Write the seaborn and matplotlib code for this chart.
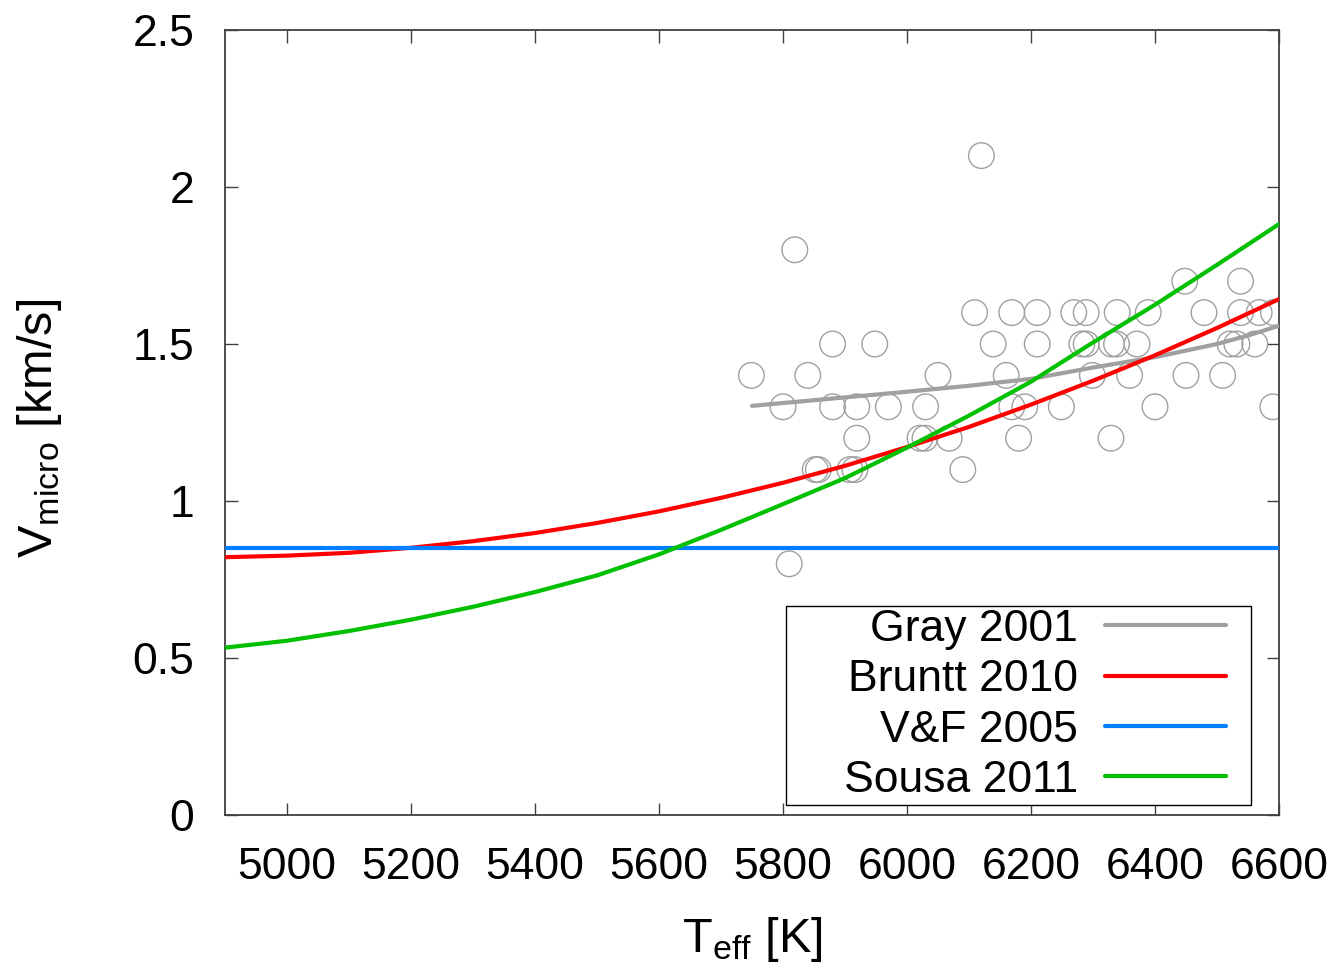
import numpy as np
import pandas as pd
import matplotlib
matplotlib.use("Agg")
import matplotlib.pyplot as plt
import seaborn as sns
from matplotlib.ticker import FuncFormatter, MultipleLocator
from matplotlib.patches import Rectangle

# ---------------- data ----------------
star_teff = [6120, 5819, 6448, 6538,
             6109, 6169, 6210, 6269, 6289, 6339, 6389, 6479, 6538, 6568, 6591,
             5880, 5948, 6139, 6210, 6282, 6289, 6330, 6338, 6371, 6521, 6532, 6561,
             5749, 5840, 6050, 6160, 6299, 6359, 6450, 6509,
             5800, 5880, 5919, 5970, 6030, 6169, 6190, 6249, 6400, 6590,
             5919, 6021, 6029, 6068, 6180, 6329,
             5852, 5857, 5908, 5916, 6090,
             5810]
star_vmic = [2.1, 1.8, 1.7, 1.7,
             1.6, 1.6, 1.6, 1.6, 1.6, 1.6, 1.6, 1.6, 1.6, 1.6, 1.6,
             1.5, 1.5, 1.5, 1.5, 1.5, 1.5, 1.5, 1.5, 1.5, 1.5, 1.5, 1.5,
             1.4, 1.4, 1.4, 1.4, 1.4, 1.4, 1.4, 1.4,
             1.3, 1.3, 1.3, 1.3, 1.3, 1.3, 1.3, 1.3, 1.3, 1.3,
             1.2, 1.2, 1.2, 1.2, 1.2, 1.2,
             1.1, 1.1, 1.1, 1.1, 1.1,
             0.8]

gray_teff = [5750, 5800, 5900, 6000, 6100, 6200, 6300, 6400, 6500, 6550, 6600]
gray_vmic = [1.303, 1.312, 1.330, 1.348, 1.367, 1.389, 1.425, 1.458, 1.500, 1.527, 1.558]

model_teff = [4900, 5000, 5100, 5200, 5300, 5400, 5500, 5600, 5700,
              5800, 5900, 6000, 6100, 6200, 6300, 6400, 6500, 6600]
bruntt_vmic = [0.821, 0.826, 0.835, 0.851, 0.872, 0.898, 0.930, 0.967, 1.010,
               1.058, 1.112, 1.172, 1.236, 1.307, 1.383, 1.464, 1.551, 1.643]
sousa_vmic = [0.533, 0.555, 0.586, 0.622, 0.663, 0.710, 0.763, 0.830, 0.908,
              0.990, 1.073, 1.170, 1.272, 1.380, 1.505, 1.625, 1.752, 1.882]
vf_teff = [4900, 6600]
vf_vmic = [0.85, 0.85]

labels = ["Gray 2001", "Bruntt 2010", "V&F 2005", "Sousa 2011"]
colors = ["#a0a0a0", "#ff0000", "#0080ff", "#00c000"]

# ---------------- style ----------------
sns.set_theme(style="ticks")
plt.rcParams["font.family"] = ["Liberation Sans", "DejaVu Sans"]
plt.rcParams["mathtext.fontset"] = "custom"
plt.rcParams["mathtext.rm"] = "Liberation Sans"
plt.rcParams["mathtext.it"] = "Liberation Sans"
plt.rcParams["mathtext.default"] = "regular"
plt.rcParams["text.color"] = "black"

W, H = 1339, 964
AX_L, AX_R, AX_T, AX_B = 225, 1279, 30, 815
fig = plt.figure(figsize=(W / 100, H / 100), dpi=100)
ax = fig.add_axes([AX_L / W, 1 - AX_B / H, (AX_R - AX_L) / W, (AX_B - AX_T) / H])
aw, ah = AX_R - AX_L, AX_B - AX_T

stars = pd.DataFrame({"Teff": star_teff, "vmic": star_vmic})
sns.scatterplot(data=stars, x="Teff", y="vmic", ax=ax, marker="o", s=340,
                facecolor="none", edgecolor="#a0a0a0", linewidth=1.0,
                legend=False, zorder=2)

lw = 3.0
sns.lineplot(x=gray_teff, y=gray_vmic, ax=ax, color=colors[0], lw=lw, label=labels[0], zorder=3)
sns.lineplot(x=model_teff, y=bruntt_vmic, ax=ax, color=colors[1], lw=lw, label=labels[1], zorder=3)
sns.lineplot(x=vf_teff, y=vf_vmic, ax=ax, color=colors[2], lw=lw, label=labels[2], zorder=3)
sns.lineplot(x=model_teff, y=sousa_vmic, ax=ax, color=colors[3], lw=lw, label=labels[3], zorder=3)

ax.set_xlim(4900, 6600)
ax.set_ylim(0, 2.5)
ax.xaxis.set_major_locator(MultipleLocator(200))
ax.yaxis.set_major_locator(MultipleLocator(0.5))
ax.yaxis.set_major_formatter(FuncFormatter(lambda v, p: "%g" % v))

for s in ax.spines.values():
    s.set_visible(True)
    s.set_color("#404040")
    s.set_linewidth(1.3)

ax.tick_params(axis="both", which="major", direction="in", length=9, width=1.0,
               color="#404040", top=True, right=True, labelsize=32, labelcolor="black")
ax.tick_params(axis="y", pad=22)
ax.tick_params(axis="x", pad=23)

ax.set_xlabel(r"T$_{\rm eff}$ [K]", fontsize=35, color="black")
ax.set_ylabel(r"V$_{\rm micro}$ [km/s]", fontsize=35, color="black")
ax.xaxis.set_label_coords(0.5, -0.128)
ax.yaxis.set_label_coords(-0.153, 0.493)

# legend frame (gnuplot-style box)
bx0, bx1, by0, by1 = 786, 1251, 805, 606
ax.add_patch(Rectangle(((bx0 - AX_L) / aw, (AX_B - by0) / ah),
                       (bx1 - bx0) / aw, (by0 - by1) / ah,
                       transform=ax.transAxes, facecolor="white",
                       edgecolor="black", lw=1.0, zorder=4))

fs = 32
leg = ax.legend(loc="lower right",
                bbox_to_anchor=((1226 - AX_L) / aw, (AX_B - 801) / ah),
                borderaxespad=0, borderpad=0, markerfirst=False, fontsize=fs,
                frameon=False, handlelength=121 / (fs * 100 / 72),
                handletextpad=27 / (fs * 100 / 72), labelspacing=0.21)
leg.set_zorder(5)
for t in leg.get_texts():
    t.set_color("black")

fig.savefig("out.png", dpi=100)
